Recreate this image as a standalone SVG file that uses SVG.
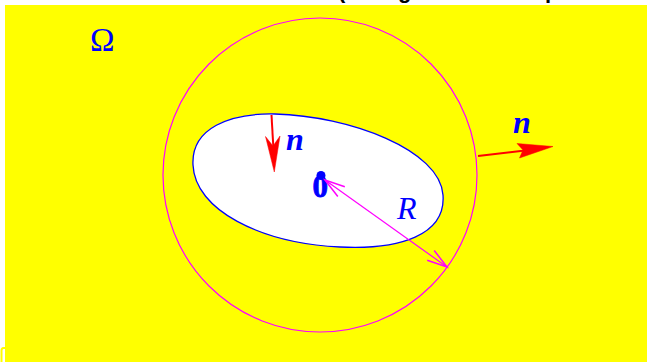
<svg xmlns="http://www.w3.org/2000/svg" width="647" height="362" viewBox="0 0 647 362">
  <style>
    .lbl { fill: #0000ff; font-family: "Liberation Serif", "Times New Roman", serif; }
    .vec { fill: #0000ff; font-family: "Liberation Serif", "Times New Roman", serif; font-weight: bold; font-style: italic; font-size: 32px; }
    .red { fill: #ff0000; stroke: #ff0000; }
    .mag { fill: none; stroke: #ff00ff; }
  </style>
  <rect x="0" y="0" width="647" height="362" fill="#ffffff"/>
  <text x="338" y="-2" font-family="Liberation Sans, Arial, sans-serif" font-weight="bold" font-size="22" fill="#000000"><tspan x="338">(</tspan><tspan x="398">g</tspan><tspan x="545">p</tspan></text>
  <rect id="domain" x="5" y="5" width="642" height="357" fill="#ffff00"/>
  <path d="M 6,348 L 3.5,348 Q 1.5,348 1.5,350.5 L 1.5,362" fill="none" stroke="#ffff00" stroke-width="2"/>

  <g id="omega-label">
    <text class="lbl" x="90" y="51" font-size="33">Ω</text>
  </g>

  <g id="ball">
    <circle cx="320" cy="175" r="157" fill="none" stroke="#ff00ff" stroke-width="1.2"/>
  </g>

  <g id="obstacle">
    <path d="M 275,114 C 350,116 440,150 443,195 C 446,235 400,250 340,247 C 260,243 195,210 193,165 C 191,128 230,113 275,114 Z" fill="#ffffff" stroke="#0000ff" stroke-width="1.3"/>
  </g>

  <g id="origin">
    <circle cx="321" cy="175.5" r="4.5" fill="#0000ff"/>
    <text x="312.5" y="197" font-family="Liberation Serif, Times New Roman, serif" font-weight="bold" font-size="31" fill="#0000ff" stroke="#0000ff" stroke-width="0.8">0</text>
  </g>

  <g id="connectors">
    <g id="normal-inner">
      <line class="red" x1="271.5" y1="115" x2="273.5" y2="150" stroke-width="2"/>
      <polygon class="red" points="274.3,172 265.5,136.5 273,146 280,136" stroke-width="0.5"/>
    </g>
    <g id="normal-outer">
      <line class="red" x1="478" y1="156" x2="525" y2="150.5" stroke-width="2.2"/>
      <polygon class="red" points="553,146.5 517,143.5 523,150 519.5,158" stroke-width="0.5"/>
    </g>
    <g id="radius">
      <line class="mag" x1="325" y1="180" x2="447" y2="267" stroke-width="1.2"/>
      <polyline class="mag" points="344.8,186.7 325,180 337.8,196.5" stroke-width="1.5"/>
      <polyline class="mag" points="434.2,250.5 447,267 427.2,260.3" stroke-width="1.5"/>
    </g>
  </g>

  <g id="labels">
    <text class="vec" x="286" y="150">n</text>
    <text class="vec" x="513" y="133">n</text>
    <text class="lbl" x="397" y="219" font-size="32" font-style="italic">R</text>
  </g>
</svg>
